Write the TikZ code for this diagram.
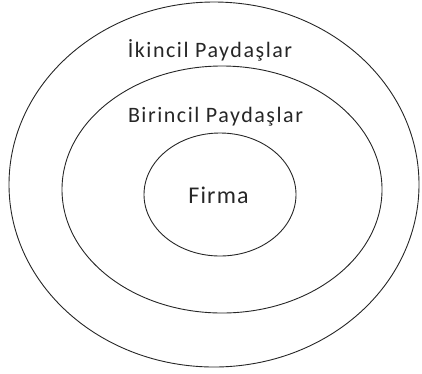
\documentclass[tikz,border=0pt]{standalone}
\usepackage{fontspec}
\setmainfont{Carlito}
\begin{document}
\begin{tikzpicture}[x=1pt,y=-1pt,
  ring/.style={draw=black!85,line width=0.9pt},
  lbl/.style={font=\fontsize{22}{26}\selectfont\addfontfeature{LetterSpace=7},text=black!85,inner sep=0pt,anchor=base}]
\useasboundingbox (0,0) rectangle (422,373);
\draw[ring] (214,184.5) ellipse [x radius=205,y radius=182.5];
\draw[ring] (222,189.5) ellipse [x radius=160,y radius=123.5];
\draw[ring] (220,194.5) ellipse [x radius=76,y radius=61.5];
\node[lbl] (outer) at (210,57) {İkincil Paydaşlar};
\node[lbl] (mid) at (215.5,122) {Birincil Paydaşlar};
\node[lbl,font=\fontsize{24}{28}\selectfont\addfontfeature{LetterSpace=5}] (firma) at (218.5,203) {Firma};
\end{tikzpicture}
\end{document}
